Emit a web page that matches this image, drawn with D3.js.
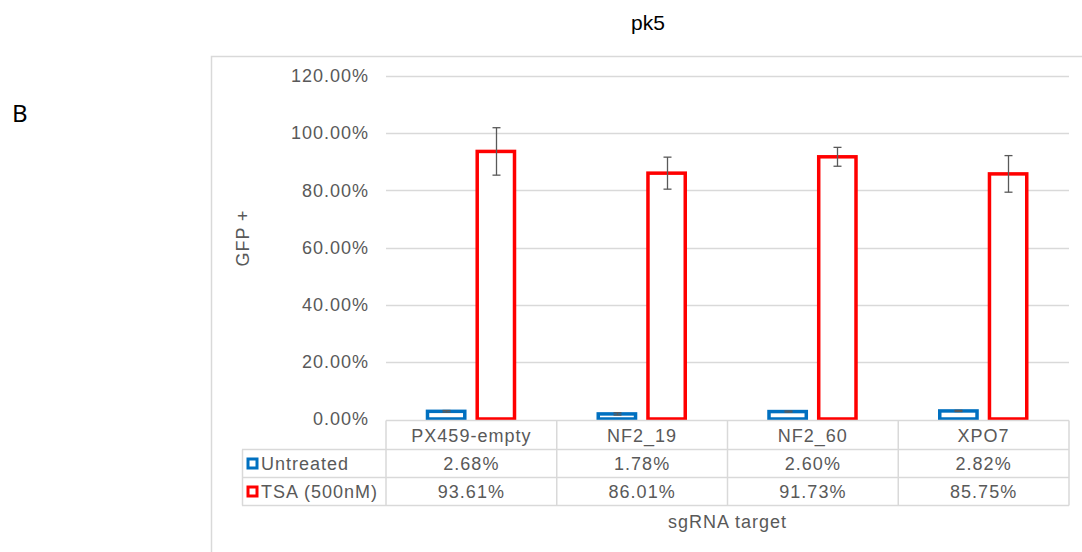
<!DOCTYPE html>
<html>
<head>
<meta charset="utf-8">
<script src="https://cdn.jsdelivr.net/npm/d3@7"></script>
<style>
  body { margin: 0; background: #fff; }
  svg text { font-family: "Liberation Sans", Arial, sans-serif; }
  svg text.sp { letter-spacing: 1px; }
</style>
</head>
<body>
<div id="chart"></div>
<script>
// data
const categories = ["PX459-empty", "NF2_19", "NF2_60", "XPO7"];
const seriesNames = ["Untreated", "TSA (500nM)"];
const untreated = [0.0268, 0.0178, 0.0260, 0.0282];
const tsa = [0.9361, 0.8601, 0.9173, 0.8575];
const untreatedErr = [0.003, 0.004, 0.002, 0.002];
const tsaErr = [0.083, 0.056, 0.033, 0.064];
const yTicks = [0, 0.2, 0.4, 0.6, 0.8, 1.0, 1.2];
const colors = ["#0070C0", "#FF0000"];

const W = 1082, H = 552;
const svg = d3.select("#chart").append("svg")
  .attr("width", W).attr("height", H);

const textCol = "#595959", gridCol = "#d9d9d9";

// outer chart frame (only left and top edges visible)
svg.append("path")
  .attr("d", "M211.5,560 V56.5 H1090")
  .attr("fill", "none").attr("stroke", gridCol).attr("stroke-width", 1.5);

// panel letter
svg.append("text").attr("x", 12).attr("y", 122)
  .style("font-family", "'Noto Sans', 'DejaVu Sans', sans-serif")
  .attr("font-size", 24).attr("fill", "#000").text("B");

// title
svg.append("text").attr("x", 648).attr("y", 30).attr("text-anchor", "middle")
  .attr("font-size", 21).attr("fill", "#000").text("pk5");

const x = d3.scaleBand().domain(categories).range([386, 1069]).padding(0);
const xSub = d3.scaleBand().domain(seriesNames)
  .range([41.5, 128.5]).paddingInner(0.25).paddingOuter(0);
const y = d3.scaleLinear().domain([0, 1.2]).range([419, 76]);

// gridlines
svg.append("g").selectAll("line").data(yTicks.slice(1)).enter().append("line")
  .attr("x1", 386).attr("x2", 1069)
  .attr("y1", d => Math.round(y(d)) + 0.5).attr("y2", d => Math.round(y(d)) + 0.5)
  .attr("stroke", gridCol).attr("stroke-width", 1.5);

// y axis labels
const yAxis = svg.append("g").attr("transform", "translate(386,0)")
  .call(d3.axisLeft(y).tickValues(yTicks).tickSize(0).tickPadding(17)
    .tickFormat(d => (d * 100).toFixed(2) + "%"));
yAxis.select(".domain").remove();
yAxis.selectAll("text").attr("class", "sp").attr("font-size", 18).attr("fill", textCol)
  .style("font-family", "'Liberation Sans', Arial, sans-serif");

// y axis title
svg.append("text").attr("class", "sp").attr("transform", "translate(249,238) rotate(-90)")
  .attr("text-anchor", "middle").attr("font-size", 18).attr("fill", textCol)
  .text("GFP +");

// bars
const seriesData = [untreated, tsa];
const errData = [untreatedErr, tsaErr];
seriesNames.forEach((s, si) => {
  const g = svg.append("g");
  g.selectAll("rect").data(categories).enter().append("rect")
    .attr("x", c => x(c) + xSub(s))
    .attr("y", (c, i) => y(seriesData[si][i]))
    .attr("width", xSub.bandwidth())
    .attr("height", (c, i) => y(0) - y(seriesData[si][i]))
    .attr("fill", "#fff").attr("stroke", colors[si]).attr("stroke-width", 3.5);
  // error bars
  categories.forEach((c, i) => {
    const cx = Math.round(x(c) + xSub(s) + xSub.bandwidth() / 2) + 0.5;
    const v = seriesData[si][i], e = errData[si][i];
    const y1 = y(v + e), y2 = y(v - e);
    g.append("line").attr("x1", cx).attr("x2", cx).attr("y1", y1).attr("y2", y2)
      .attr("stroke", textCol).attr("stroke-width", 1.3);
    [y1, y2].forEach(yy => g.append("line")
      .attr("x1", cx - 4).attr("x2", cx + 4).attr("y1", yy).attr("y2", yy)
      .attr("stroke", textCol).attr("stroke-width", 1.3));
  });
});

// data table below the axis
const rowTop = [420.5, 449.5, 477.5, 505.5];
const tbl = svg.append("g").attr("stroke", gridCol).attr("stroke-width", 1.5);
tbl.append("line").attr("x1", 386).attr("x2", 1069).attr("y1", rowTop[0]).attr("y2", rowTop[0]);
rowTop.slice(1).forEach(r => tbl.append("line")
  .attr("x1", 242).attr("x2", 1069).attr("y1", r).attr("y2", r));
tbl.append("line").attr("x1", 242.5).attr("x2", 242.5).attr("y1", rowTop[1]).attr("y2", rowTop[3]);
categories.concat([null]).forEach((c, i) => {
  const xx = c === null ? 1069 : x(c);
  tbl.append("line").attr("x1", xx).attr("x2", xx).attr("y1", rowTop[0]).attr("y2", rowTop[3]);
});

// header row: category names
svg.append("g").selectAll("text").data(categories).enter().append("text")
  .attr("class", "sp")
  .attr("x", c => x(c) + x.bandwidth() / 2).attr("y", 442)
  .attr("text-anchor", "middle").attr("font-size", 18).attr("fill", textCol)
  .text(c => c);

// series rows
seriesNames.forEach((s, si) => {
  const yMid = (rowTop[si + 1] + rowTop[si + 2]) / 2;
  svg.append("rect").attr("x", 248).attr("y", yMid - 4.5).attr("width", 9).attr("height", 9)
    .attr("fill", "#fff").attr("stroke", colors[si]).attr("stroke-width", 3);
  svg.append("text").attr("class", "sp").attr("x", 261).attr("y", yMid + 6.5)
    .attr("font-size", 18).attr("fill", textCol).text(s);
  svg.append("g").selectAll("text").data(categories).enter().append("text")
    .attr("class", "sp")
    .attr("x", c => x(c) + x.bandwidth() / 2).attr("y", yMid + 6.5)
    .attr("text-anchor", "middle").attr("font-size", 18).attr("fill", textCol)
    .text((c, i) => (seriesData[si][i] * 100).toFixed(2) + "%");
});

// x axis title
svg.append("text").attr("class", "sp").attr("x", 727.5).attr("y", 528).attr("text-anchor", "middle")
  .attr("font-size", 18).attr("fill", textCol).text("sgRNA target");
</script>
</body>
</html>
